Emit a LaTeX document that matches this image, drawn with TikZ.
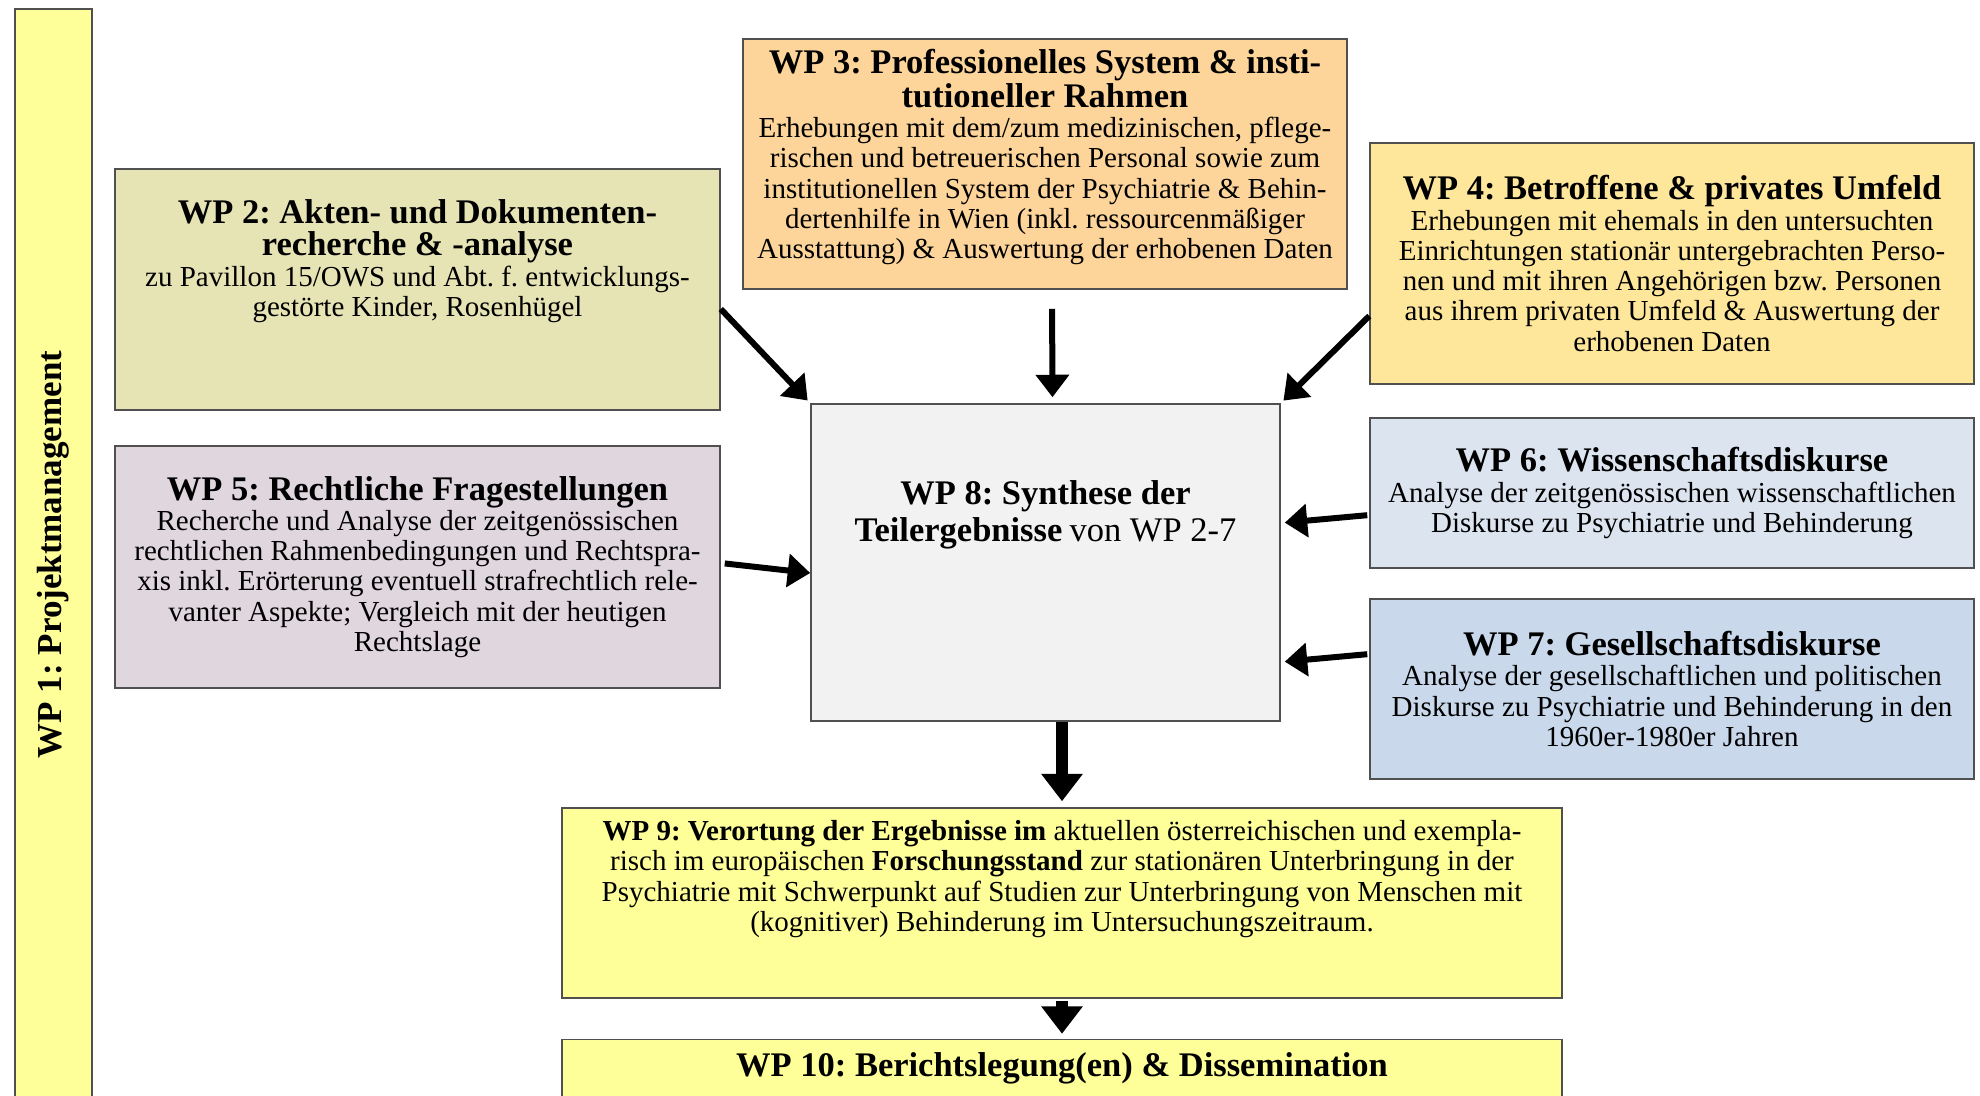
\documentclass[tikz,border=0pt]{standalone}
\usepackage{fontspec}
\setmainfont{Liberation Serif}
\usepackage{xcolor}
\usepackage{tikz}
\usetikzlibrary{arrows.meta,positioning}

\definecolor{pmyellow}{RGB}{255,255,153}
\definecolor{wpkhaki}{RGB}{230,228,180}
\definecolor{wppeach}{RGB}{253,213,154}
\definecolor{wpsand}{RGB}{254,231,155}
\definecolor{wpmauve}{RGB}{224,214,222}
\definecolor{wpsky}{RGB}{220,228,240}
\definecolor{wpblue}{RGB}{201,216,235}
\definecolor{wpgrey}{RGB}{242,242,242}
\definecolor{boxline}{RGB}{80,80,80}

\newcommand{\wphead}[1]{{\fontsize{13.8}{14}\selectfont\bfseries #1}}
\frenchspacing

\begin{document}
\begin{tikzpicture}[
    x=0.4pt, y=-0.4pt,
    >=Latex,
    every node/.style={font=\fontsize{11.6}{12.1}\selectfont, align=center, inner sep=0pt},
    wpbox/.style={draw=boxline, line width=0.6pt},
    feed/.style={-{Triangle[length=9pt,width=13pt]}, line width=2.4pt},
    mainflow/.style={-{Triangle[length=11pt,width=16pt]}, line width=5pt}
]
\useasboundingbox (0,0) rectangle (1980,1095);
\clip (0,0) rectangle (1980,1095);

% project management bar
\node[wpbox, fill=pmyellow, rotate=90, minimum width=436.4pt, minimum height=30.8pt] (wp1) at (53.5,554.5)
{\fontsize{14}{16}\selectfont\bfseries WP 1: Projektmanagement};

% work packages feeding the synthesis
\node[wpbox, fill=wpkhaki, minimum width=242pt, minimum height=96.4pt] (wp2) at (417.5,289.5) {};
\node (wp2text) at ([yshift=11.4pt]wp2.center)
{\wphead{WP 2: Akten- und Dokumenten-}\\[1pt] \wphead{recherche \& -analyse}\\
zu Pavillon 15/OWS und Abt. f. entwicklungs-\\ gestörte Kinder, Rosenhügel};

\node[wpbox, fill=wppeach, minimum width=241.6pt, minimum height=100pt] (wp3) at (1045,164) {};
\node (wp3text) at ([yshift=2.8pt]wp3.center)
{\wphead{WP 3: Professionelles System \& insti-}\\ \wphead{tutioneller Rahmen}\\
Erhebungen mit dem/zum medizinischen, pflege-\\ rischen und betreuerischen Personal sowie zum\\
institutionellen System der Psychiatrie \& Behin-\\ dertenhilfe in Wien (inkl. ressourcenmäßiger\\
Ausstattung) \& Auswertung der erhobenen Daten};

\node[wpbox, fill=wpsand, minimum width=241.6pt, minimum height=96.4pt] (wp4) at (1672,263.5)
{\wphead{WP 4: Betroffene \& privates Umfeld}\\
Erhebungen mit ehemals in den untersuchten\\ Einrichtungen stationär untergebrachten Perso-\\
nen und mit ihren Angehörigen bzw. Personen\\ aus ihrem privaten Umfeld \& Auswertung der\\
erhobenen Daten};

\node[wpbox, fill=wpmauve, minimum width=242pt, minimum height=96.8pt] (wp5) at (417.5,567)
{\wphead{WP 5: Rechtliche Fragestellungen}\\
Recherche und Analyse der zeitgenössischen\\ rechtlichen Rahmenbedingungen und Rechtspra-\\
xis inkl. Erörterung eventuell strafrechtlich rele-\\ vanter Aspekte; Vergleich mit der heutigen\\
Rechtslage};

\node[wpbox, fill=wpsky, minimum width=241.6pt, minimum height=60pt] (wp6) at (1672,493)
{\wphead{WP 6: Wissenschaftsdiskurse}\\
Analyse der zeitgenössischen wissenschaftlichen\\ Diskurse zu Psychiatrie und Behinderung};

\node[wpbox, fill=wpblue, minimum width=241.6pt, minimum height=72pt] (wp7) at (1672,689)
{\wphead{WP 7: Gesellschaftsdiskurse}\\
Analyse der gesellschaftlichen und politischen\\ Diskurse zu Psychiatrie und Behinderung in den\\
1960er-1980er Jahren};

% synthesis
\node[wpbox, fill=wpgrey, minimum width=187.6pt, minimum height=126.8pt] (wp8) at (1045.5,562.5) {};
\node (wp8text) at ([yshift=19pt]wp8.center)
{\wphead{WP 8: Synthese der}\\[1pt] \wphead{Teilergebnisse} {\fontsize{13.8}{14}\selectfont von WP 2-7}};

% research context and reporting
\node[wpbox, fill=pmyellow, minimum width=400pt, minimum height=76pt] (wp9) at (1062,903) {};
\node (wp9text) at ([yshift=9.6pt]wp9.center)
{\textbf{WP 9: Verortung der Ergebnisse im} aktuellen österreichischen und exempla-\\
risch im europäischen \textbf{Forschungsstand} zur stationären Unterbringung in der\\
Psychiatrie mit Schwerpunkt auf Studien zur Unterbringung von Menschen mit\\
(kognitiver) Behinderung im Untersuchungszeitraum.};

\node[wpbox, fill=pmyellow, minimum width=400pt, minimum height=40.8pt, below=16pt of wp9] (wp10) {};
\node (wp10text) at ([yshift=-12pt]wp10.north)
{\wphead{WP 10: Berichtslegung(en) \& Dissemination}};

% arrows
\draw[feed, shorten >=1.5pt] ([yshift=-7.8pt]wp2.east) -- (wp8.north west);
\draw[feed, shorten <=7.6pt, shorten >=2.4pt] ([xshift=2.8pt]wp3.south) -- ([xshift=2.8pt]wp8.north);
\draw[feed, shorten >=1.5pt] ([yshift=-21pt]wp4.west) -- (wp8.north east);
\draw[feed, shorten <=1.6pt] ([yshift=1.6pt]wp5.east) -- ([yshift=-4.2pt]wp8.west);
\draw[feed, shorten <=0.8pt, shorten >=1.6pt] ([yshift=-8.8pt]wp6.west) -- ([yshift=15.8pt]wp8.east);
\draw[feed, shorten <=0.8pt, shorten >=1.6pt] ([yshift=14pt]wp7.west) -- ([yshift=-39.8pt]wp8.east);
\draw[mainflow, shorten >=2.4pt] (wp8.south -| wp9.north) -- (wp9.north);
\draw[mainflow, shorten <=0.8pt, shorten >=2pt] (wp9.south) -- (wp10.north);

\end{tikzpicture}
\end{document}
